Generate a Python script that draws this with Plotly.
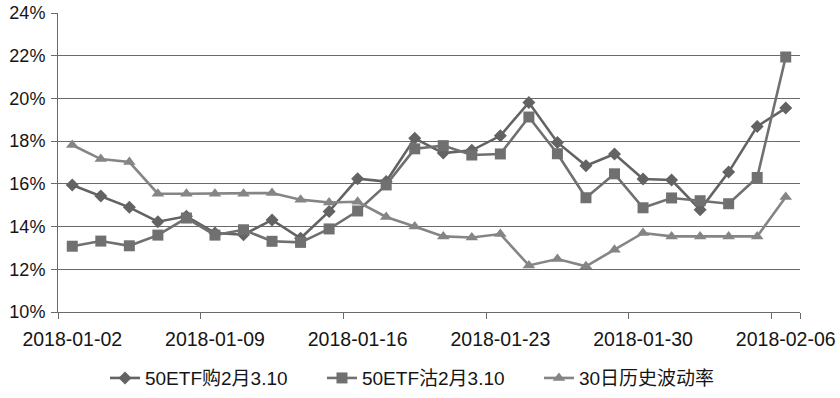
import plotly.graph_objects as go

dates = ["2018-01-02", "2018-01-03", "2018-01-04", "2018-01-05", "2018-01-08",
         "2018-01-09", "2018-01-10", "2018-01-11", "2018-01-12", "2018-01-15",
         "2018-01-16", "2018-01-17", "2018-01-18", "2018-01-19", "2018-01-22",
         "2018-01-23", "2018-01-24", "2018-01-25", "2018-01-26", "2018-01-29",
         "2018-01-30", "2018-01-31", "2018-02-01", "2018-02-02", "2018-02-05",
         "2018-02-06"]

call_iv = [15.95, 15.43, 14.90, 14.23, 14.48, 13.70, 13.62, 14.31, 13.45, 14.71,
           16.24, 16.11, 18.13, 17.44, 17.57, 18.25, 19.81, 17.94, 16.85, 17.40,
           16.23, 16.18, 14.79, 16.55, 18.69, 19.55]

put_iv = [13.08, 13.32, 13.10, 13.60, 14.40, 13.60, 13.85, 13.31, 13.26, 13.89,
          14.73, 15.95, 17.64, 17.79, 17.35, 17.40, 19.13, 17.41, 15.35, 16.47,
          14.88, 15.34, 15.21, 15.07, 16.30, 21.94]

hist_vol = [17.82, 17.16, 17.02, 15.54, 15.54, 15.54, 15.54, 15.57, 15.26, 15.13,
            15.16, 14.45, 14.00, 13.54, 13.49, 13.65, 12.18, 12.48, 12.14, 12.92,
            13.70, 13.54, 13.54, 13.54, 13.54, 15.38]

series_names = ["50ETF购2月3.10", "50ETF沽2月3.10", "30日历史波动率"]
y_ticks = [10, 12, 14, 16, 18, 20, 22, 24]
y_tick_text = [f"{v}%" for v in y_ticks]
x_tick_vals = dates[::5]

FONT = "Liberation Sans, Noto Sans CJK SC, sans-serif"
TEXT = "#151515"

fig = go.Figure()
fig.add_trace(go.Scatter(
    x=dates, y=call_iv, name=series_names[0], mode="lines+markers",
    line=dict(color="#636363", width=2.6),
    marker=dict(symbol="diamond", size=10, color="#636363"),
))
fig.add_trace(go.Scatter(
    x=dates, y=put_iv, name=series_names[1], mode="lines+markers",
    line=dict(color="#707070", width=2.6),
    marker=dict(symbol="square", size=11, color="#707070"),
))
fig.add_trace(go.Scatter(
    x=dates, y=hist_vol, name=series_names[2], mode="lines+markers",
    line=dict(color="#858585", width=2.6),
    marker=dict(symbol="triangle-up", size=11, color="#858585"),
))

fig.update_layout(
    width=840, height=398,
    margin=dict(l=58, r=40, t=13, b=86),
    paper_bgcolor="white", plot_bgcolor="white",
    font=dict(family=FONT, size=18, color=TEXT),
    showlegend=True,
    legend=dict(orientation="h", xref="paper", x=0.502, xanchor="center",
                yref="container", y=0.050, yanchor="middle",
                font=dict(family=FONT, size=19, color=TEXT),
                entrywidth=172, entrywidthmode="pixels", itemsizing="trace"),
)
fig.update_xaxes(
    type="category", categoryorder="array", categoryarray=dates,
    range=[-0.5, len(dates) - 0.5],
    tickmode="array", tickvals=x_tick_vals, ticktext=x_tick_vals,
    tickangle=0, automargin=False,
    tickson="boundaries", ticks="outside", ticklen=6, tickcolor="#6a6a6a",
    showgrid=False, showline=True, linecolor="#6a6a6a", linewidth=1,
    ticklabelstandoff=10, zeroline=False,
    tickfont=dict(family=FONT, size=19.5, color=TEXT),
)
fig.update_yaxes(
    range=[10, 24], tickmode="array", tickvals=y_ticks, ticktext=y_tick_text,
    ticks="outside", ticklen=6, tickcolor="#6a6a6a", automargin=False,
    showgrid=True, gridcolor="#6a6a6a", gridwidth=1,
    showline=True, linecolor="#6a6a6a", linewidth=1, zeroline=False,
    ticklabelstandoff=2,
    tickfont=dict(family=FONT, size=18, color=TEXT),
)

fig.write_html("out.html", config={"displayModeBar": False},
               post_script="document.body.style.margin='0px';")
